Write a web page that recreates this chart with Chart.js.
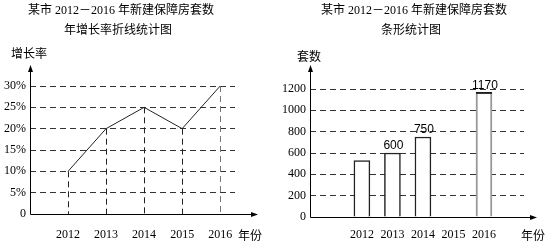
<!DOCTYPE html>
<html>
<head>
<meta charset="utf-8">
<script src="https://cdn.jsdelivr.net/npm/chart.js@4.4.1/dist/chart.umd.min.js"></script>
<style>
  html, body { margin: 0; padding: 0; background: #fff; }
  .wrap { display: flex; width: 548px; height: 244px; }
  .box { width: 274px; height: 244px; }
</style>
</head>
<body>
<div class="wrap">
  <div class="box"><canvas id="graficoTasa" width="274" height="244"></canvas></div>
  <div class="box"><canvas id="graficoCasas" width="274" height="244"></canvas></div>
</div>
<script>
// --- datos ---
const years = [2012, 2013, 2014, 2015, 2016];
const growthRate = [10, 20, 25, 20, 30];          // %
const houseCount = [530, 600, 750, null, 1170];    // 套
const labeledYears = [2013, 2014, 2016];
const rateTicks = [0, 5, 10, 15, 20, 25, 30];
const countTicks = [0, 200, 400, 600, 800, 1000, 1200];

const titleMain = "某市 2012－2016 年新建保障房套数";
const titleLine = "年增长率折线统计图";
const titleBar = "条形统计图";

const SERIF = '"Liberation Serif", "Noto Sans CJK SC", serif';
const CJK = '"Noto Sans CJK SC", sans-serif';

Chart.defaults.animation = false;
Chart.defaults.font.family = SERIF;
Chart.defaults.color = "#000";

// --- dibujo común: títulos, ejes con flecha ---
function decoPlugin(cfg) {
  return {
    id: "deco",
    afterDraw(chart) {
      const ctx = chart.ctx;
      const { left, bottom } = chart.chartArea;
      const ax = Math.round(left) + 0.5;
      const ay = Math.round(bottom) + 0.5;
      ctx.save();
      ctx.fillStyle = "#000";
      ctx.textAlign = "center";
      ctx.textBaseline = "middle";
      ctx.font = "12px " + SERIF;
      ctx.fillText(titleMain, cfg.t1x, 11);
      ctx.fillText(cfg.t2, cfg.t2x, 31);
      ctx.font = "12px " + CJK;
      ctx.fillText(cfg.yTitle, cfg.yTitleX, cfg.yTitleY);
      ctx.fillText("年份", cfg.xTitleX, 235);

      // ejes
      ctx.strokeStyle = "#000";
      ctx.lineWidth = 1;
      ctx.beginPath();
      ctx.moveTo(ax, ay);
      ctx.lineTo(ax, 70);
      ctx.moveTo(ax, ay);
      ctx.lineTo(cfg.arrowX - 4, ay);
      ctx.stroke();
      // flechas
      ctx.beginPath();
      ctx.moveTo(ax, 65);
      ctx.lineTo(ax - 2.5, 72);
      ctx.lineTo(ax + 2.5, 72);
      ctx.closePath();
      ctx.fill();
      ctx.beginPath();
      ctx.moveTo(cfg.arrowX, ay);
      ctx.lineTo(cfg.arrowX - 7, ay - 2.5);
      ctx.lineTo(cfg.arrowX - 7, ay + 2.5);
      ctx.closePath();
      ctx.fill();
      ctx.restore();
    }
  };
}

// líneas punteadas verticales desde cada punto
const dropLines = {
  id: "dropLines",
  beforeDatasetsDraw(chart) {
    const ctx = chart.ctx;
    const xs = chart.scales.x, ys = chart.scales.y;
    ctx.save();
    ctx.setLineDash([6, 4]);
    ctx.lineWidth = 1;
    years.forEach((yr, i) => {
      const x = Math.round(xs.getPixelForValue(yr)) + 0.5;
      ctx.strokeStyle = yr === 2016 ? "#777" : "#222";
      ctx.beginPath();
      ctx.moveTo(x, ys.getPixelForValue(growthRate[i]));
      ctx.lineTo(x, ys.getPixelForValue(0));
      ctx.stroke();
    });
    ctx.restore();
  }
};

// etiquetas sobre las barras
const barLabels = {
  id: "barLabels",
  afterDatasetsDraw(chart) {
    const ctx = chart.ctx;
    const meta = chart.getDatasetMeta(0);
    ctx.save();
    ctx.fillStyle = "#000";
    ctx.font = '12px "Liberation Sans", sans-serif';
    ctx.textAlign = "center";
    ctx.textBaseline = "middle";
    years.forEach((yr, i) => {
      const el = meta.data[i];
      if (!el || houseCount[i] == null) return;
      if (yr === 2016) {
        ctx.strokeStyle = "#000";
        ctx.lineWidth = 1.5;
        ctx.beginPath();
        ctx.moveTo(el.x - el.width / 2, el.y + 0.75);
        ctx.lineTo(el.x + el.width / 2, el.y + 0.75);
        ctx.stroke();
      }
      if (labeledYears.includes(yr)) ctx.fillText(String(houseCount[i]), el.x + 1, el.y - 7);
    });
    ctx.restore();
  }
};

function xAxis(max, height, pad) {
  return {
    type: "linear",
    min: 2011,
    max,
    afterBuildTicks: s => { s.ticks = years.map(v => ({ value: v })); },
    afterFit: s => { s.height = height; },
    border: { display: false },
    grid: { display: false, drawTicks: false },
    ticks: { padding: pad, font: { size: 12 }, callback: v => String(v), maxRotation: 0, autoSkip: false }
  };
}

function yAxis(max, tickList, width, fmt) {
  return {
    min: 0,
    max,
    afterBuildTicks: s => { s.ticks = tickList.map(v => ({ value: v })); },
    afterFit: s => { s.width = width; },
    border: { display: false, dash: [6, 4] },
    grid: {
      drawTicks: false,
      color: c => (c.tick && c.tick.value === 0 ? "rgba(0,0,0,0)" : "#333")
    },
    ticks: { padding: 4, font: { size: 12 }, callback: fmt }
  };
}

// --- gráfico de líneas ---
new Chart(document.getElementById("graficoTasa"), {
  type: "line",
  data: {
    datasets: [{
      data: years.map((y, i) => ({ x: y, y: growthRate[i] })),
      borderColor: "#222",
      borderWidth: 1,
      pointRadius: 0,
      tension: 0,
      fill: false
    }]
  },
  options: {
    responsive: false,
    layout: { padding: { top: 86, right: 39, left: 0, bottom: 0 } },
    plugins: { legend: { display: false }, tooltip: { enabled: false } },
    scales: {
      x: xAxis(2016.39, 30, 14),
      y: yAxis(30, rateTicks, 30, v => (v === 0 ? "0" : v + "%"))
    }
  },
  plugins: [dropLines, decoPlugin({
    t1x: 121, t2: titleLine, t2x: 118,
    yTitle: "增长率", yTitleX: 29, yTitleY: 53,
    xTitleX: 250, arrowX: 258
  })]
});

// --- gráfico de barras ---
new Chart(document.getElementById("graficoCasas"), {
  type: "bar",
  data: {
    datasets: [{
      data: years.map((y, i) => ({ x: y, y: houseCount[i] })),
      backgroundColor: "#fff",
      borderColor: years.map(y => (y === 2016 ? "#999" : "#222")),
      borderWidth: years.map(y => (y === 2016 ? 2 : 1.5)),
      borderSkipped: "start",
      barThickness: 16
    }]
  },
  options: {
    responsive: false,
    layout: { padding: { top: 89, right: 24, left: 0, bottom: 0 } },
    plugins: { legend: { display: false }, tooltip: { enabled: false } },
    scales: {
      x: xAxis(2016.61, 27, 11),
      y: yAxis(1200, countTicks, 36, v => String(v))
    }
  },
  plugins: [barLabels, decoPlugin({
    t1x: 140, t2: titleBar, t2x: 137,
    yTitle: "套数", yTitleX: 35, yTitleY: 56,
    xTitleX: 259, arrowX: 263
  })]
});
</script>
</body>
</html>
